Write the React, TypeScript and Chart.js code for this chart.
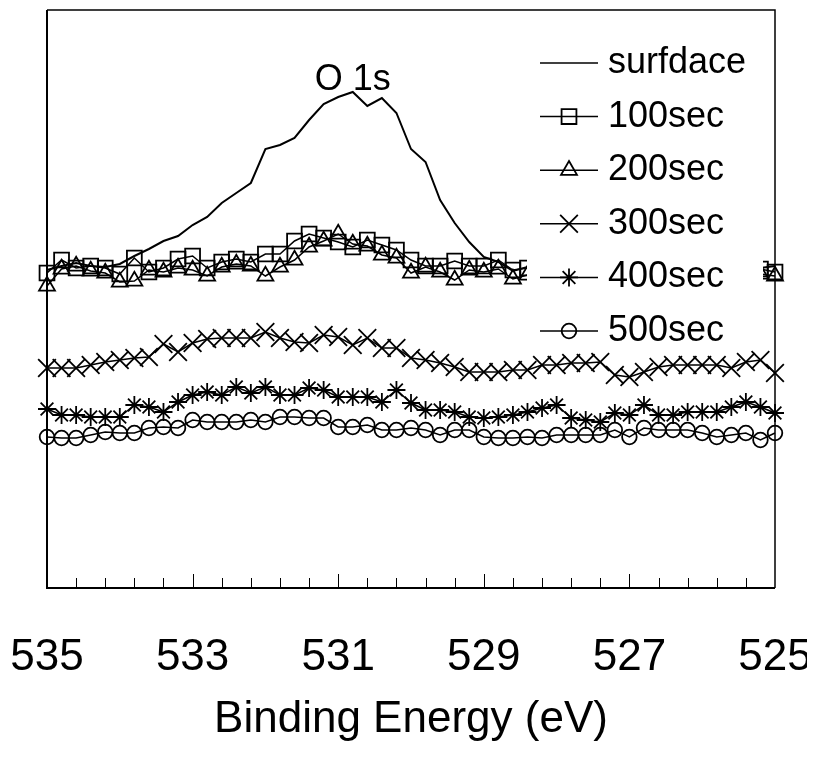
import React, { useEffect, useRef } from 'react';
import { Chart, registerables } from 'chart.js';
import { drawPoint } from 'chart.js/helpers';

Chart.register(...registerables);

// Binding energy (eV), 0.2 eV steps
const energies: number[] = [
  535.0, 534.8, 534.6, 534.4, 534.2, 534.0, 533.8, 533.6, 533.4, 533.2,
  533.0, 532.8, 532.6, 532.4, 532.2, 532.0, 531.8, 531.6, 531.4, 531.2,
  531.0, 530.8, 530.6, 530.4, 530.2, 530.0, 529.8, 529.6, 529.4, 529.2,
  529.0, 528.8, 528.6, 528.4, 528.2, 528.0, 527.8, 527.6, 527.4, 527.2,
  527.0, 526.8, 526.6, 526.4, 526.2, 526.0, 525.8, 525.6, 525.4, 525.2,
  525.0,
];

// Intensities (arbitrary units)
const surfdace: number[] = [
  318, 322, 325, 322, 321, 324, 332, 339, 347, 352,
  363, 371, 385, 395, 405, 439, 443, 450, 468, 484,
  491, 496, 482, 490, 475, 439, 426, 388, 365, 346,
  331, 326, 317, 321, 320, 322, 320, 319, 321, 320,
  318, 320, 321, 319, 320, 318, 320, 321, 319, 320,
  322,
];
const sec100: number[] = [
  315, 328, 320, 322, 320, 314, 330, 316, 320, 329,
  332, 320, 326, 329, 326, 334, 334, 347, 354, 350,
  346, 341, 348, 343, 338, 328, 322, 322, 327, 322,
  322, 328, 318, 320, 321, 320, 322, 319, 321, 320,
  322, 318, 320, 321, 319, 322, 320, 318, 321, 319,
  316,
];
const sec200: number[] = [
  302, 319, 322, 317, 315, 306, 307, 318, 316, 320,
  318, 312, 321, 324, 322, 312, 321, 328, 341, 347,
  354, 344, 342, 333, 330, 315, 321, 316, 308, 318,
  316, 319, 309, 313, 316, 315, 317, 314, 316, 315,
  317, 314, 316, 315, 317, 314, 316, 315, 317, 314,
  312,
];
const sec300: number[] = [
  220, 220, 220, 223, 226, 228, 230, 231, 244, 236,
  245, 249, 250, 250, 250, 256, 250, 246, 245, 253,
  251, 243, 250, 240, 240, 230, 228, 225, 221, 216,
  216, 216, 218, 218, 223, 223, 225, 225, 226, 213,
  211, 216, 221, 223, 223, 223, 223, 220, 226, 228,
  215,
];
const sec400: number[] = [
  179, 173, 173, 171, 171, 171, 183, 181, 176, 186,
  193, 196, 193, 201, 195, 201, 193, 193, 200, 198,
  191, 191, 191, 186, 198, 185, 178, 178, 176, 171,
  170, 171, 173, 176, 180, 183, 170, 168, 166, 175,
  173, 183, 173, 173, 176, 176, 176, 181, 186, 181,
  175,
];
const sec500: number[] = [
  151, 150, 150, 153, 156, 155, 155, 160, 161, 160,
  168, 166, 166, 166, 168, 166, 171, 171, 170, 170,
  161, 161, 163, 158, 158, 160, 158, 153, 158, 158,
  151, 150, 150, 151, 150, 153, 153, 153, 153, 158,
  151, 160, 158, 158, 158, 155, 151, 153, 155, 148,
  155,
];

const seriesNames: string[] = ['surfdace', '100sec', '200sec', '300sec', '400sec', '500sec'];
const xTickLabels: number[] = [535, 533, 531, 529, 527, 525];
const xMinorTicks: number[] = [
  534.6, 534.2, 533.8, 533.4, 532.6, 532.2, 531.8, 531.4, 530.6, 530.2,
  529.8, 529.4, 528.6, 528.2, 527.8, 527.4, 526.6, 526.2, 525.8, 525.4,
];
const xTitle = 'Binding Energy (eV)';
const peakLabel = 'O 1s';
const peakLabelAt = { x: 530.8, y: 508 };

const FONT = '"Liberation Sans", Arial, Helvetica, sans-serif';

const styles: { pointStyle: any; radius: number }[] = [
  { pointStyle: false, radius: 0 },
  { pointStyle: 'rect', radius: 10.5 },
  { pointStyle: 'triangle', radius: 9.2 },
  { pointStyle: 'crossRot', radius: 12.5 },
  { pointStyle: 'star', radius: 9 },
  { pointStyle: 'circle', radius: 7.3 },
];

const decorPlugin = {
  id: 'decor',
  afterDatasetsDraw(chart: any) {
    const { ctx, chartArea: a, scales } = chart;
    const xs = scales.x;
    const ys = scales.y;
    ctx.save();
    ctx.strokeStyle = '#000';
    ctx.fillStyle = '#000';

    // tick marks (inside)
    ctx.lineWidth = 1;
    const drawTick = (v: number, len: number) => {
      const px = Math.round(xs.getPixelForValue(v)) + 0.5;
      ctx.beginPath();
      ctx.moveTo(px, a.bottom);
      ctx.lineTo(px, a.bottom - len);
      ctx.stroke();
    };
    xMinorTicks.forEach((v) => drawTick(v, 10));
    xTickLabels.slice(1, -1).forEach((v) => drawTick(v, 14));

    // frame
    ctx.lineWidth = 1.5;
    ctx.beginPath();
    ctx.moveTo(a.left, a.top);
    ctx.lineTo(a.right, a.top);
    ctx.lineTo(a.right, a.bottom);
    ctx.stroke();
    ctx.lineWidth = 2;
    ctx.beginPath();
    ctx.moveTo(a.left, a.top);
    ctx.lineTo(a.left, a.bottom);
    ctx.lineTo(a.right, a.bottom);
    ctx.stroke();

    // peak annotation
    ctx.font = `36px ${FONT}`;
    ctx.textAlign = 'center';
    ctx.textBaseline = 'middle';
    ctx.fillText(peakLabel, xs.getPixelForValue(peakLabelAt.x), ys.getPixelForValue(peakLabelAt.y));

    // legend box (opaque, covers data)
    const boxL = 519, boxT = 20, boxR = 755, boxB = 340;
    ctx.fillStyle = '#fff';
    ctx.fillRect(boxL, boxT, boxR - boxL, boxB - boxT);
    const rowY0 = 55, rowStep = 53.6;
    const lineX0 = 532, lineX1 = 590, textX = 600;
    seriesNames.forEach((name, i) => {
      const yy = rowY0 + rowStep * i;
      ctx.strokeStyle = '#000';
      ctx.lineWidth = 1.5;
      ctx.beginPath();
      ctx.moveTo(lineX0, yy);
      ctx.lineTo(lineX1, yy);
      ctx.stroke();
      const st = styles[i];
      if (st.pointStyle) {
        ctx.fillStyle = 'rgba(0,0,0,0)';
        ctx.strokeStyle = '#000';
        ctx.lineWidth = 1.8;
        drawPoint(ctx, { pointStyle: st.pointStyle, radius: st.radius, rotation: 0, borderWidth: 1.8 } as any, (lineX0 + lineX1) / 2, yy);
      }
      ctx.fillStyle = '#000';
      ctx.font = `36px ${FONT}`;
      ctx.textAlign = 'left';
      ctx.textBaseline = 'middle';
      ctx.fillText(name, textX, yy);
    });
    ctx.restore();
  },
};

export default function App() {
  const ref = useRef<HTMLCanvasElement | null>(null);
  useEffect(() => {
    if (!ref.current) return;
    const all = [surfdace, sec100, sec200, sec300, sec400, sec500];
    const datasets = all.map((vals, i) => ({
      label: seriesNames[i],
      data: energies.map((e, j) => ({ x: e, y: vals[j] })),
      borderColor: '#000',
      backgroundColor: 'rgba(0,0,0,0)',
      borderWidth: i === 0 ? 2 : 1.5,
      pointStyle: styles[i].pointStyle,
      pointRadius: styles[i].radius,
      pointHoverRadius: styles[i].radius,
      pointBorderColor: '#000',
      pointBackgroundColor: 'rgba(0,0,0,0)',
      pointBorderWidth: 1.8,
      tension: 0,
      clip: false as any,
    }));
    const chart = new Chart(ref.current, {
      type: 'line',
      data: { datasets },
      options: {
        animation: false,
        responsive: false,
        events: [],
        layout: { autoPadding: false, padding: { left: 39, right: 40, top: 2, bottom: 0 } },
        plugins: { legend: { display: false }, tooltip: { enabled: false } },
        scales: {
          x: {
            type: 'linear',
            position: 'bottom',
            reverse: true,
            min: 525,
            max: 535,
            grid: { display: false, drawTicks: false },
            border: { display: false },
            afterBuildTicks: (scale: any) => {
              scale.ticks = xTickLabels.map((v) => ({ value: v }));
            },
            afterFit: (scale: any) => {
              scale.height = 162;
              scale.paddingLeft = 0;
              scale.paddingRight = 0;
            },
            ticks: {
              autoSkip: false,
              maxRotation: 0,
              padding: 43,
              color: '#000',
              font: { family: FONT, size: 44 },
              callback: (v: any) => String(v),
            },
            title: {
              display: true,
              text: xTitle,
              color: '#000',
              font: { family: FONT, size: 44 },
              padding: { top: 0, bottom: 4 },
            },
          },
          y: {
            type: 'linear',
            display: false,
            min: 0,
            max: 578,
          },
        },
      } as any,
      plugins: [decorPlugin],
    });
    return () => chart.destroy();
  }, []);
  return (
    <div style={{ width: 807, height: 742 }}>
      <canvas ref={ref} width={807} height={742} style={{ display: 'block' }} />
    </div>
  );
}
